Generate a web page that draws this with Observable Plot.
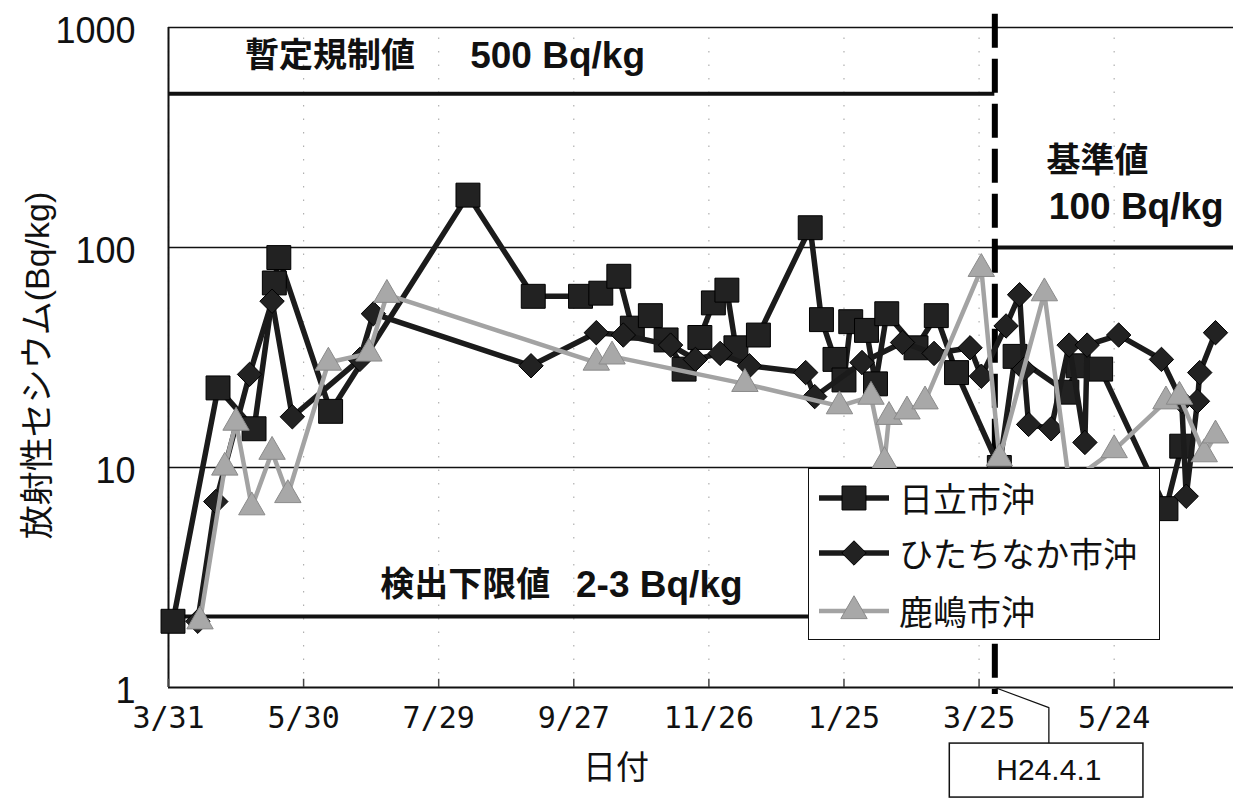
<!DOCTYPE html>
<html>
<head>
<meta charset="utf-8">
<script src="https://cdn.jsdelivr.net/npm/d3@7"></script>
<script src="https://cdn.jsdelivr.net/npm/@observablehq/plot@0.6"></script>
<style>
  body { margin: 0; background: #fff; }
  #wrap { position: relative; width: 1233px; height: 805px; overflow: hidden; background: #fff; }
  #legend { position: absolute; left: 808px; top: 468px; width: 352px; height: 172px;
    border: 1.5px solid #111; background: #fff; box-sizing: border-box;
    font-family: "Noto Sans CJK JP", sans-serif; font-size: 34px; color: #111; }
  .row { position: absolute; left: 8px; height: 40px; display: flex; align-items: center; }
  .row span { margin-left: 8px; line-height: 40px; }
</style>
</head>
<body>
<div id="wrap"></div>
<script>
// ---------- data ----------
const seriesNames = ["日立市沖", "ひたちなか市沖", "鹿嶋市沖"];

const hitachiDates = ["2011-04-02","2011-04-22","2011-05-08","2011-05-17","2011-05-19","2011-06-11",
  "2011-08-11","2011-09-09","2011-09-30","2011-10-09","2011-10-17","2011-10-23","2011-10-31",
  "2011-11-07","2011-11-15","2011-11-22","2011-11-28","2011-12-04","2011-12-08","2011-12-18",
  "2012-01-10","2012-01-15","2012-01-21","2012-01-25","2012-01-28","2012-02-04","2012-02-08",
  "2012-02-13","2012-02-26","2012-03-06","2012-03-15","2012-04-03","2012-04-10","2012-05-03",
  "2012-05-08","2012-05-18","2012-06-16","2012-06-23"];
const hitachiValues = [2, 23, 15, 69, 90, 18,
  173, 60, 60, 62, 74, 43, 49,
  38, 28, 39, 56, 64, 35, 40,
  123, 47, 31, 25, 46, 42, 24,
  50, 35, 49, 27, 10, 32, 22,
  29, 28, 6.5, 12.5];

const hitachinakaDates = ["2011-04-13","2011-04-21","2011-05-06","2011-05-16","2011-05-25","2011-06-24",
  "2011-06-30","2011-09-08","2011-10-07","2011-10-19","2011-11-09","2011-11-20","2011-12-01",
  "2011-12-14","2012-01-08","2012-01-12","2012-02-02","2012-02-20","2012-03-05","2012-03-21",
  "2012-03-26","2012-04-06","2012-04-12","2012-04-14","2012-04-16","2012-04-26","2012-05-04",
  "2012-05-11","2012-05-12","2012-05-26","2012-06-14","2012-06-23","2012-06-25","2012-06-30",
  "2012-07-01","2012-07-08"];
const hitachinakaValues = [2, 7, 26.5, 57, 17, 31,
  50, 29, 41, 40, 36, 31, 33,
  29, 27, 21, 30, 37, 33, 35,
  26, 44, 61, 28, 15.7, 15, 36,
  13, 36, 40, 31, 20, 7.4, 20,
  27, 41];

const kashimaDates = ["2011-04-14","2011-04-25","2011-04-30","2011-05-07","2011-05-16","2011-05-23",
  "2011-06-10","2011-06-28","2011-07-06","2011-10-07","2011-10-14","2011-12-12","2012-01-23",
  "2012-02-06","2012-02-12","2012-02-14","2012-02-22","2012-03-01","2012-03-26","2012-04-03",
  "2012-04-23","2012-05-04","2012-05-24","2012-06-16","2012-06-22","2012-07-03","2012-07-08"];
const kashimaValues = [2, 10, 16, 6.6, 11.8, 7.5,
  30, 33, 61, 30, 32, 24, 19,
  21, 10.6, 17, 18, 20, 80, 11,
  62, 8.5, 12, 20, 21, 11.5, 14];

const xTickDates = ["2011-03-31","2011-05-30","2011-07-29","2011-09-27","2011-11-26","2012-01-25","2012-03-25","2012-05-24"];
const xTickLabels = ["3/31","5/30","7/29","9/27","11/26","1/25","3/25","5/24"];
const yTicks = [1, 10, 100, 1000];
const yTickLabels = ["1", "10", "100", "1000"];
const yTitle = "放射性セシウム(Bq/kg)";
const xTitle = "日付";

const xDomain = ["2011-03-31", "2012-07-16"];
const changeDate = "2012-04-01";        // H24.4.1

const limitValues = [500, 100, 2.1];
const limitFrom = ["2011-03-31", "2012-04-01", "2011-03-31"];
const limitTo   = ["2012-04-01", "2012-07-16", "2012-04-01"];

const noteTexts  = ["暫定規制値", "500 Bq/kg", "基準値", "100 Bq/kg", "検出下限値", "2-3 Bq/kg"];
const noteDates  = ["2011-05-04", "2011-08-12", "2012-04-24", "2012-04-25", "2011-07-03", "2011-09-28"];
const noteValues = [740, 740, 248, 152, 2.91, 2.91];
const noteSizes  = [34, 37, 34, 37, 34, 37];

const calloutDates  = ["2012-04-01", "2012-04-25", "2012-04-25"];
const calloutValues = [1, 0.81, 0.556];
const boxText = "H24.4.1";
const boxDates = ["2012-03-12", "2012-06-06"];
const boxValues = [0.556, 0.316];
const boxTextDate = "2012-04-25", boxTextValue = 0.42;

// ---------- build tables ----------
const parse = d3.utcParse("%Y-%m-%d");
function rows(name, dates, values) {
  return dates.map((d, i) => ({series: name, date: parse(d), value: values[i]}));
}
const sHitachi = rows(seriesNames[0], hitachiDates, hitachiValues);
const sNaka    = rows(seriesNames[1], hitachinakaDates, hitachinakaValues);
const sKashima = rows(seriesNames[2], kashimaDates, kashimaValues);

const limits = limitValues.map((v, i) => ({value: v, from: parse(limitFrom[i]), to: parse(limitTo[i])}));
const notes = noteTexts.map((t, i) => ({text: t, date: parse(noteDates[i]), value: noteValues[i], size: noteSizes[i]}));
const callout = calloutDates.map((d, i) => ({date: parse(d), value: calloutValues[i]}));
const tickDates = xTickDates.map(parse);
const tickLabelMap = new Map(tickDates.map((d, i) => [+d, xTickLabels[i]]));

const BLACK = "#1b1b1b", GRAY = "#a3a3a3";
const styles = [
  {data: sHitachi, stroke: BLACK, sw: 5.5, symbol: "square", r: 13.5, fill: "#222", dotStroke: "#000"},
  {data: sNaka, stroke: BLACK, sw: 5.5, symbol: "diamond2", r: 11, fill: "#222", dotStroke: "#000"},
  {data: sKashima, stroke: GRAY, sw: 4.5, symbol: "triangle", r: 9.8, fill: "#a8a8a8", dotStroke: "#8a8a8a"}
];

const seriesMarks = styles.flatMap(s => [
  Plot.line(s.data, {x: "date", y: "value", stroke: s.stroke, strokeWidth: s.sw, strokeLinejoin: "round"}),
  Plot.dot(s.data, {x: "date", y: "value", symbol: s.symbol, r: s.r, fill: s.fill, stroke: s.dotStroke, strokeWidth: 1})
]);

const chart = Plot.plot({
  width: 1233, height: 805,
  marginLeft: 168, marginRight: 0, marginTop: 27, marginBottom: 118,
  style: {fontFamily: "'Liberation Sans', 'Noto Sans CJK JP', sans-serif", background: "white", overflow: "visible", color: "#111"},
  x: {type: "utc", domain: xDomain.map(parse), axis: null},
  y: {type: "log", domain: [1, 1000], axis: null},
  marks: [
    // faint dotted vertical grid
    Plot.ruleX(tickDates, {y1: 1, y2: 1000, stroke: "#b0b0b0", strokeWidth: 1.2, strokeDasharray: "1.5,12"}),
    // horizontal grid + frame
    Plot.ruleY([10, 100], {stroke: "#111", strokeWidth: 1.5}),
    Plot.ruleY([1000], {stroke: "#111", strokeWidth: 1.5}),
    Plot.ruleY([1], {stroke: "#111", strokeWidth: 2}),
    Plot.ruleX([parse(xDomain[0])], {y1: 1, y2: 1000, stroke: "#111", strokeWidth: 2}),
    // small inward x ticks
    Plot.ruleX(tickDates, {y1: 1, y2: 1.09, stroke: "#444", strokeWidth: 1.5}),
    // axes labels
    Plot.axisX({ticks: tickDates, tickFormat: d => tickLabelMap.get(+d), tickSize: 0, tickPadding: 19,
      fontSize: 30, fontFamily: "'DejaVu Sans Mono', monospace", label: null}),
    Plot.axisY({ticks: yTicks, tickFormat: d => yTickLabels[yTicks.indexOf(d)], tickSize: 0, tickPadding: 33,
      fontSize: 36, dy: 4, label: null}),
    Plot.text([yTitle], {frameAnchor: "left", textAnchor: "middle", rotate: -90, dx: -130, dy: 8, fontSize: 34, fill: "#111"}),
    Plot.text([xTitle], {frameAnchor: "bottom", textAnchor: "middle", dx: -85, dy: 91, fontSize: 33, fill: "#111"}),
    // limit lines
    Plot.ruleY(limits, {y: "value", x1: "from", x2: "to", stroke: "#111", strokeWidth: 4}),
    Plot.ruleX([parse(changeDate)], {y1: 1150, y2: 0.93, stroke: "#000", strokeWidth: 6, strokeDasharray: "34,11"}),
    // series
    ...seriesMarks,
    // annotations
    Plot.text(notes, {x: "date", y: "value", text: "text", fontSize: "size", textAnchor: "start", fontWeight: "bold", fill: "#111"}),
    // callout
    Plot.line(callout, {x: "date", y: "value", stroke: "#111", strokeWidth: 1.3}),
    Plot.rect([{x1: parse(boxDates[0]), x2: parse(boxDates[1]), y1: boxValues[0], y2: boxValues[1]}],
      {x1: "x1", x2: "x2", y1: "y1", y2: "y2", fill: "white", stroke: "#111", strokeWidth: 1.5}),
    Plot.text([{t: boxText, date: parse(boxTextDate), value: boxTextValue}],
      {x: "date", y: "value", text: "t", fontSize: 30, fill: "#111"})
  ]
});

const wrap = document.getElementById("wrap");
wrap.appendChild(chart);

// ---------- legend ----------
const legend = document.createElement("div");
legend.id = "legend";
const rowTops = [9, 64, 122];
styles.forEach((s, i) => {
  const row = document.createElement("div");
  row.className = "row";
  row.style.top = rowTops[i] + "px";
  const area = Math.PI * s.r * s.r;
  const symType = {square: d3.symbolSquare, diamond2: d3.symbolDiamond2, triangle: d3.symbolTriangle}[s.symbol];
  const path = d3.symbol(symType, area)();
  row.innerHTML = `<svg width="74" height="40"><line x1="2" y1="20" x2="72" y2="20" stroke="${s.stroke}" stroke-width="${s.sw}"/>` +
    `<path transform="translate(37,20)" d="${path}" fill="${s.fill}" stroke="${s.dotStroke}"/></svg><span>${seriesNames[i]}</span>`;
  legend.appendChild(row);
});
wrap.appendChild(legend);
</script>
</body>
</html>
